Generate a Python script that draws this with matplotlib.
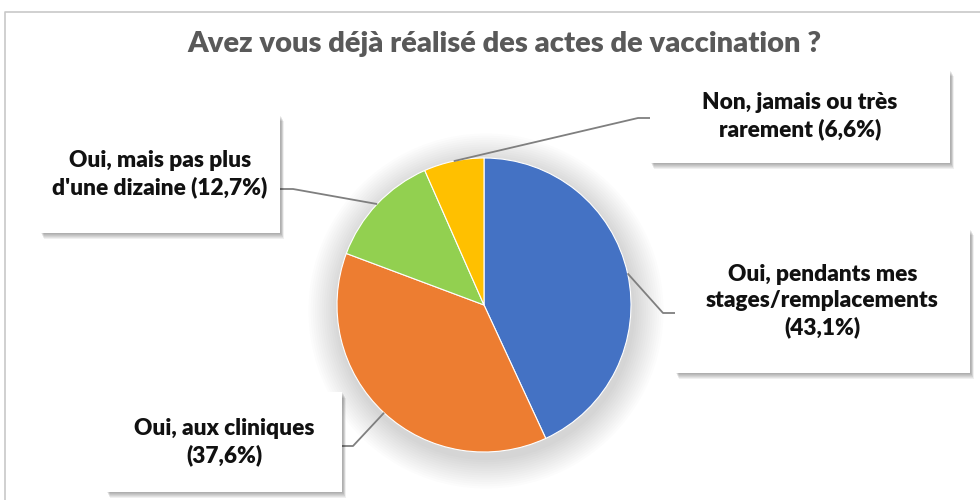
import matplotlib.pyplot as plt
from matplotlib.patches import Rectangle, Circle
import numpy as np

plt.rcParams['font.family'] = ['Lato', 'DejaVu Sans']

# données
labels = ['Oui, pendants mes\nstages/remplacements\n(43,1%)',
          'Oui, aux cliniques\n(37,6%)',
          "Oui, mais pas plus\nd'une dizaine (12,7%)",
          'Non, jamais ou très\nrarement (6,6%)']
values = [43.1, 37.6, 12.7, 6.6]
colors = ['#4472C4', '#ED7D31', '#92D050', '#FFC000']

# boîtes d'étiquettes (gauche, haut, droite, bas) en pixels depuis le haut
boxes = [(675, 229, 970, 373), (106, 392, 342, 492),
         (40, 115, 280, 233), (650, 70, 950, 163)]
# coude des lignes de rappel et point d'attache sur la boîte
elbows = [((663, 313), (675, 313)), ((353, 446), (342, 446)),
          ((293, 189), (280, 189)), ((638, 118), (650, 118))]

W, H = 980, 500
cx, cy, r = 484, H - 305, 147

fig = plt.figure(figsize=(9.8, 5), dpi=100)
ax = fig.add_axes([0, 0, 1, 1])

# cadre extérieur
ax.plot([5, 5, W + 5], [-5, H - 12, H - 12], color='#C8C8C8', lw=1.2, clip_on=False)

# ombre douce sous le camembert
for k in range(14):
    ax.add_patch(Circle((cx + 2, cy - 6), r + 2 + k * 2.2, color='#000000',
                        alpha=0.012, lw=0, zorder=1))

wedges, _ = ax.pie(values, colors=colors, startangle=90, counterclock=False,
                   center=(cx, cy), radius=r, frame=True,
                   wedgeprops=dict(edgecolor='white', linewidth=0.8, zorder=3))
ax.set_xlim(0, W)
ax.set_ylim(0, H)
ax.set_aspect('equal')
ax.axis('off')

for w, lab, (l, t, rr, b), (elb, att) in zip(wedges, labels, boxes, elbows):
    ang = np.deg2rad((w.theta1 + w.theta2) / 2)
    px, py = cx + r * np.cos(ang), cy + r * np.sin(ang)
    ax.plot([px, elb[0], att[0]], [py, H - elb[1], H - att[1]],
            color='#7F7F7F', lw=1.3, zorder=4, solid_capstyle='butt')
    # ombre de la boîte
    for k in range(6):
        ax.add_patch(Rectangle((l + 1 + k * 0.6, H - b - 1 - k * 0.9), rr - l, b - t,
                               color='#000000', alpha=0.06, lw=0, zorder=5))
    ax.add_patch(Rectangle((l, H - b), rr - l, b - t, facecolor='white',
                           edgecolor='none', zorder=6))
    ax.text((l + rr) / 2, H - (t + b) / 2, lab, ha='center', va='center',
            fontsize=16.3, fontweight='heavy', color='#111111', linespacing=1.3, zorder=7)

ax.text(504, H - 44, 'Avez vous déjà réalisé des actes de vaccination ?',
        ha='center', va='center', fontsize=21, fontweight='heavy', color='#595959')

fig.savefig('out.png', dpi=100)
